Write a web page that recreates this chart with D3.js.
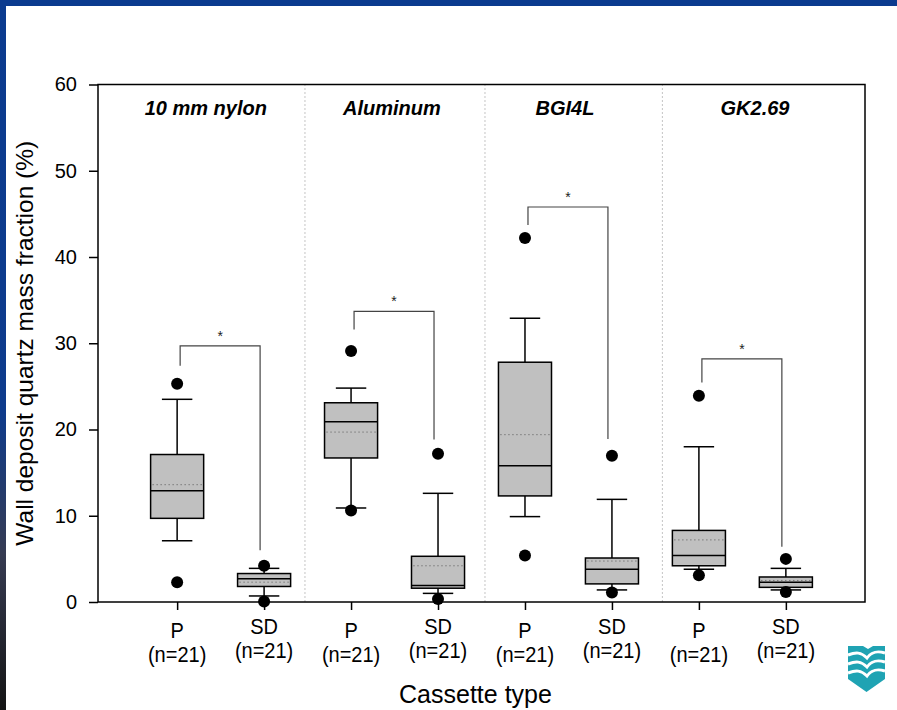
<!DOCTYPE html>
<html>
<head>
<meta charset="utf-8">
<script src="https://cdn.jsdelivr.net/npm/d3@7"></script>
<style>
  body { margin: 0; background: #fff; }
  text { font-family: Arial, 'Liberation Sans', sans-serif; }
</style>
</head>
<body>
<svg id="chart" width="897" height="710"></svg>
<script>
// group titles and the cassette under each box
const groups = ['10 mm nylon', 'Aluminum', 'BGI4L', 'GK2.69'];
const cassettes = ['P', 'SD', 'P', 'SD', 'P', 'SD', 'P', 'SD'];
const counts = ['(n=21)', '(n=21)', '(n=21)', '(n=21)', '(n=21)', '(n=21)', '(n=21)', '(n=21)'];
const yTicks = [0, 10, 20, 30, 40, 50, 60];

// box statistics, one entry per box
const whiskerLow  = [7.1, 0.7, 10.9, 1.0, 9.9, 1.4, 3.8, 1.4];
const q1          = [9.7, 1.8, 16.7, 1.6, 12.3, 2.1, 4.2, 1.7];
const median      = [12.9, 2.7, 20.9, 1.9, 15.8, 3.8, 5.4, 2.3];
const mean        = [13.6, 2.3, 19.7, 4.2, 19.4, 4.75, 7.2, 2.5];
const q3          = [17.1, 3.3, 23.1, 5.3, 27.8, 5.1, 8.3, 2.9];
const whiskerHigh = [23.5, 3.9, 24.8, 12.6, 32.9, 11.9, 18.0, 3.9];
const outlierLow  = [2.3, 0.05, 10.6, 0.35, 5.4, 1.1, 3.1, 1.15];
const outlierHigh = [25.3, 4.2, 29.1, 17.2, 42.2, 16.95, 23.9, 5.0];

// significance brackets, one per group
const bracketTop   = [29.7, 33.7, 45.8, 28.2];
const bracketLeft  = [27.4, 31.6, 43.7, 25.45];
const bracketRight = [6.0, 18.85, 18.9, 6.4];

var svg = d3.select('#chart');

// page decoration: blue band on top, gradient strip on the left
var defs = svg.append('defs');
var grad = defs.append('linearGradient').attr('id', 'edge')
    .attr('x1', 0).attr('y1', 0).attr('x2', 0).attr('y2', 1);
grad.append('stop').attr('offset', '0%').attr('stop-color', '#0b3b8f');
grad.append('stop').attr('offset', '58%').attr('stop-color', '#0e3b8c');
grad.append('stop').attr('offset', '78%').attr('stop-color', '#363b52');
grad.append('stop').attr('offset', '100%').attr('stop-color', '#141414');
svg.append('rect').attr('x', 0).attr('y', 0).attr('width', 897).attr('height', 6).attr('fill', '#0b3b8f');
svg.append('rect').attr('x', 0).attr('y', 0).attr('width', 6).attr('height', 710).attr('fill', 'url(#edge)');

// plot box (avoid the name "top": window.top is read-only)
var pl = {left: 98, right: 865, top: 84.5, bottom: 602};
var x = d3.scaleLinear().domain([0.09, 8.91]).range([pl.left, pl.right]);
var y = d3.scaleLinear().domain([0, 60]).range([pl.bottom, pl.top]);
var pos = cassettes.map(function(d, i) { return i + 1; });
var boxHalf = 0.305, capHalf = 0.175;

// group separators
[2.47, 4.54, 6.58].forEach(function(s) {
    svg.append('line')
        .attr('x1', x(s)).attr('x2', x(s))
        .attr('y1', pl.top).attr('y2', pl.bottom)
        .attr('stroke', '#888').attr('stroke-width', 1)
        .attr('stroke-dasharray', '1,3');
});

// group titles
var titleX = [1.33, 3.47, 5.46, 7.645];
svg.selectAll('.gtitle').data(groups).enter().append('text')
    .attr('class', 'gtitle')
    .attr('x', function(d, i) { return x(titleX[i]); })
    .attr('y', 115)
    .attr('text-anchor', 'middle')
    .attr('font-size', 20).attr('font-weight', 'bold').attr('font-style', 'italic')
    .text(function(d) { return d; });

// brackets
groups.forEach(function(g, i) {
    var xl = x(pos[2*i]) + 3, xr = x(pos[2*i+1]) - 4;
    svg.append('path')
        .attr('d', 'M' + xl + ',' + y(bracketLeft[i]) + 'V' + y(bracketTop[i]) +
                   'H' + xr + 'V' + y(bracketRight[i]))
        .attr('fill', 'none').attr('stroke', '#444').attr('stroke-width', 1.2);
    svg.append('text')
        .attr('x', (xl + xr) / 2).attr('y', y(bracketTop[i]) - 5)
        .attr('text-anchor', 'middle').attr('font-size', 14).attr('fill', '#222')
        .text('*');
});

// boxes
pos.forEach(function(p, i) {
    var g = svg.append('g');
    var cx = x(p);
    var bw = x(p + boxHalf) - cx, cw = x(p + capHalf) - cx;
    // whiskers
    g.append('line').attr('x1', cx).attr('x2', cx)
        .attr('y1', y(q3[i])).attr('y2', y(whiskerHigh[i]))
        .attr('stroke', '#000').attr('stroke-width', 1.5);
    g.append('line').attr('x1', cx).attr('x2', cx)
        .attr('y1', y(q1[i])).attr('y2', y(whiskerLow[i]))
        .attr('stroke', '#000').attr('stroke-width', 1.5);
    [whiskerHigh[i], whiskerLow[i]].forEach(function(v) {
        g.append('line').attr('x1', cx - cw).attr('x2', cx + cw)
            .attr('y1', y(v)).attr('y2', y(v))
            .attr('stroke', '#000').attr('stroke-width', 1.5);
    });
    g.append('rect')
        .attr('x', cx - bw).attr('width', 2 * bw)
        .attr('y', y(q3[i])).attr('height', y(q1[i]) - y(q3[i]))
        .attr('fill', '#c0c0c0').attr('stroke', '#000').attr('stroke-width', 1.5);
    g.append('line').attr('x1', cx - bw).attr('x2', cx + bw)
        .attr('y1', y(median[i])).attr('y2', y(median[i]))
        .attr('stroke', '#000').attr('stroke-width', 1.5);
    g.append('line').attr('x1', cx - bw + 2).attr('x2', cx + bw)
        .attr('y1', y(mean[i])).attr('y2', y(mean[i]))
        .attr('stroke', '#555').attr('stroke-width', 1)
        .attr('stroke-dasharray', '1,3');
    [outlierHigh[i], outlierLow[i]].forEach(function(v) {
        g.append('circle').attr('cx', cx).attr('cy', y(v)).attr('r', 6).attr('fill', '#000');
    });
});

// frame
svg.append('rect')
    .attr('x', pl.left).attr('y', pl.top)
    .attr('width', pl.right - pl.left).attr('height', pl.bottom - pl.top)
    .attr('fill', 'none').attr('stroke', '#000').attr('stroke-width', 1.5);

// y axis
var yAxis = svg.append('g').attr('transform', 'translate(' + pl.left + ',0)')
    .call(d3.axisLeft(y).tickValues(yTicks).tickSize(9).tickPadding(12));
yAxis.select('.domain').remove();
yAxis.selectAll('line').attr('stroke', '#000').attr('stroke-width', 1.5);
yAxis.selectAll('text').attr('font-size', 20).attr('font-family', 'Arial, Liberation Sans, sans-serif').attr('fill', '#000');

// x axis
var xAxis = svg.append('g').attr('transform', 'translate(0,' + pl.bottom + ')')
    .call(d3.axisBottom(x).tickValues(pos).tickSize(8).tickFormat(''));
xAxis.select('.domain').remove();
xAxis.selectAll('line').attr('stroke', '#000').attr('stroke-width', 1.5);

// category labels, slightly stretched vertically like the original figure
svg.selectAll('.cas').data(cassettes).enter().append('text')
    .attr('class', 'cas')
    .attr('transform', function(d, i) {
        return 'translate(' + x(pos[i]) + ',' + (d === 'P' ? 638 : 634) + ') scale(1,1.1)';
    })
    .attr('text-anchor', 'middle').attr('font-size', 20)
    .text(function(d) { return d; });
svg.selectAll('.cnt').data(counts).enter().append('text')
    .attr('class', 'cnt')
    .attr('transform', function(d, i) {
        return 'translate(' + x(pos[i]) + ',' + (cassettes[i] === 'P' ? 662 : 658) + ') scale(1,1.1)';
    })
    .attr('text-anchor', 'middle').attr('font-size', 20)
    .text(function(d) { return d; });

// axis titles
svg.append('text')
    .attr('x', (pl.left + pl.right) / 2 - 6).attr('y', 703)
    .attr('text-anchor', 'middle').attr('font-size', 25)
    .text('Cassette type');
svg.append('text')
    .attr('transform', 'translate(33,' + ((pl.top + pl.bottom) / 2) + ') rotate(-90)')
    .attr('text-anchor', 'middle').attr('font-size', 24.5)
    .text('Wall deposit quartz mass fraction (%)');

// logo in the corner
var logo = svg.append('g').attr('transform', 'translate(848,646)');
logo.append('path')
    .attr('d', 'M0,0 H15 L20,3 L25,0 H37 V33 L18.5,46 L0,33 Z')
    .attr('fill', '#1fa3b3');
[9, 18, 27].forEach(function(k) {
    logo.append('path')
        .attr('d', 'M0,' + k + ' C8,' + (k - 3) + ' 13,' + (k - 3) + ' 19,' + (k + 3) +
                   ' C24,' + (k - 4) + ' 30,' + (k - 4) + ' 37,' + (k - 2))
        .attr('fill', 'none').attr('stroke', '#fff').attr('stroke-width', 3);
});
</script>
</body>
</html>
